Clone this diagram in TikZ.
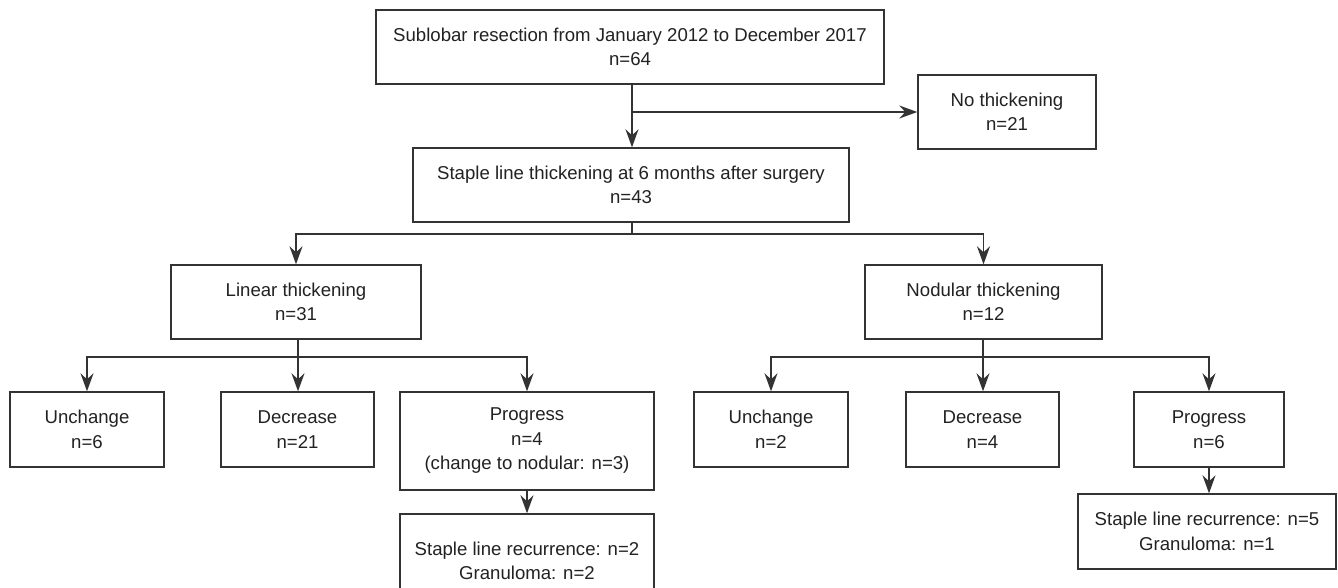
\documentclass[tikz,border=0pt]{standalone}
\usepackage{fontspec}
\setmainfont{Liberation Sans}
\usetikzlibrary{arrows.meta}
\definecolor{linec}{HTML}{333333}
\definecolor{textc}{HTML}{222222}
\tikzset{
  box/.style={draw=linec, line width=1.4pt, rectangle, inner sep=0pt, align=center,
    text=textc, font=\fontsize{18.6}{24.5}\selectfont},
  conn/.style={draw=linec, line width=1.4pt},
  arr/.style={conn, -{Stealth[length=18pt, width=13pt, inset=6pt]}}
}
\begin{document}
\begin{tikzpicture}[x=1pt, y=-1pt]
\useasboundingbox (0,0) rectangle (1338,587);
\fill[white] (0,0) rectangle (1338,587);
% nodes
\node[box, minimum width=508pt, minimum height=74pt] (top) at (630,47) {Sublobar resection from January 2012 to December 2017\\n=64};
\node[box, minimum width=178pt, minimum height=74pt] (noth) at (1007,112) {No thickening\\n=21};
\node[box, minimum width=436pt, minimum height=74pt] (staple) at (631,185) {Staple line thickening at 6 months after surgery\\n=43};
\node[box, minimum width=250pt, minimum height=74pt] (linear) at (296,302) {Linear thickening\\n=31};
\node[box, minimum width=237pt, minimum height=74pt] (nodular) at (983.5,302) {Nodular thickening\\n=12};
\node[box, minimum width=154pt, minimum height=75pt] (lu) at (87,429.5) {Unchange\\n=6};
\node[box, minimum width=153pt, minimum height=75pt] (ld) at (297.5,429.5) {Decrease\\n=21};
\node[box, minimum width=254pt, minimum height=98pt] (lp) at (527,441) {Progress\\n=4\\(change to nodular: n=3)};
\node[box, minimum width=254pt, minimum height=94pt] (lr) at (527,561) {Staple line recurrence: n=2\\Granuloma: n=2};
\node[box, minimum width=154pt, minimum height=75pt] (ru) at (771,429.5) {Unchange\\n=2};
\node[box, minimum width=153pt, minimum height=75pt] (rd) at (982.5,429.5) {Decrease\\n=4};
\node[box, minimum width=150pt, minimum height=75pt] (rp) at (1209,429.5) {Progress\\n=6};
\node[box, minimum width=258pt, minimum height=75pt] (rr) at (1207,531.5) {Staple line recurrence: n=5\\Granuloma: n=1};
% branch points
\coordinate (b0) at (632,112);
\coordinate (b1) at (632,234);
\coordinate (b2) at (298,357);
\coordinate (b3) at (983,357);
% connectors
\draw[arr] (top.south -| b0) -- (staple.north -| b0);
\draw[arr] (b0) -- (noth.west);
\draw[conn] (staple.south -| b1) -- (b1);
\draw[arr] (b1) -| (linear.north);
\draw[arr] (b1) -| (nodular.north);
\draw[conn] (linear.south -| b2) -- (b2);
\draw[arr] (b2) -| (lu.north);
\draw[arr] (b2) -- (ld.north -| b2);
\draw[arr] (b2) -| (lp.north);
\draw[conn] (nodular.south -| b3) -- (b3);
\draw[arr] (b3) -| (ru.north);
\draw[arr] (b3) -- (rd.north -| b3);
\draw[arr] (b3) -| (rp.north);
\draw[arr] (lp.south) -- (lr.north);
\draw[arr] (rp.south) -- (rp.south |- rr.north);
\end{tikzpicture}
\end{document}
